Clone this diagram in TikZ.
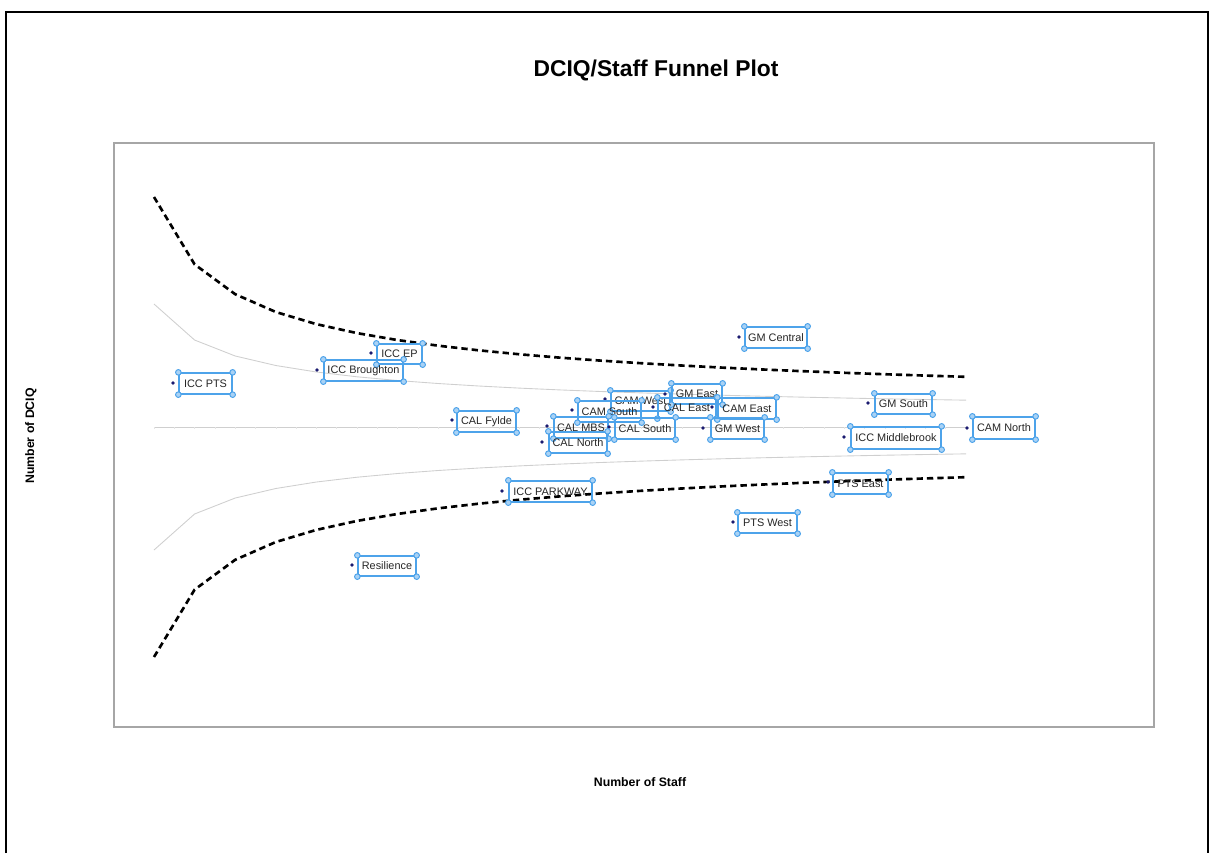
\documentclass[tikz,border=0pt]{standalone}
\usepackage{fontspec}
\setmainfont{Liberation Sans}
\definecolor{boxblue}{HTML}{4DA3EA}
\definecolor{handlefill}{HTML}{A9D2F5}
\definecolor{dotnavy}{HTML}{1B1B70}
\definecolor{framegray}{HTML}{A6A6A6}
\definecolor{linegray}{HTML}{CFCFCF}
\tikzset{
  labbox/.style={draw=boxblue, line width=0.75pt, inner sep=0pt, font=\fontsize{6.2}{7}\selectfont, text=black!85},
  handle/.style={draw=boxblue, fill=handlefill, line width=0.55pt},
  datadot/.style={circle, fill=dotnavy, inner sep=0pt, minimum size=2.2pt},
  limitline/.style={line width=1.5pt, dash pattern=on 3.6pt off 2.3pt},
  innerline/.style={draw=linegray, line width=0.5pt},
  axislabel/.style={font=\fontsize{7}{8}\selectfont\bfseries},
}
\newcommand\datum[8]{%
  \node[datadot] (#1-dot) at (#2,#3) {};
  \node[labbox, minimum width={(#6-#4)*0.02cm}, minimum height={(#7-#5)*0.02cm}] (#1) at ({(#4+#6)/2},{(#5+#7)/2}) {#8};
  \foreach \c in {north west,north east,south west,south east} \draw[handle] (#1.\c) circle (1.6pt);
}
\begin{document}
\begin{tikzpicture}[x=0.02cm,y=-0.02cm]
\useasboundingbox (0,0) rectangle (1211,853);
% outer frame
\draw[black, line width=0.7pt] (6,853) -- (6,12) -- (1208,12) -- (1208,853);
% title
\node[font=\fontsize{13}{15}\selectfont\bfseries] (title) at (656,70) {DCIQ/Staff Funnel Plot};
% plot area
\draw[framegray, line width=1pt] (114,143) rectangle (1154,727);
% centre line with faint ticks
\draw[innerline] (154,427) -- (966,427);
\foreach \k in {0,...,40} \draw[draw=black!10, line width=0.25pt] ({154+20.3*\k},427) -- ++(0,1.5);
% inner limits
\draw[innerline] plot[domain=0:20, samples=21] ({154+40.6*\x},{427-123/sqrt(\x+1)});
\draw[innerline] plot[domain=0:20, samples=21] ({154+40.6*\x},{427+123/sqrt(\x+1)});
% outer limits
\draw[limitline] plot[domain=0:20, samples=21] ({154+40.6*\x},{427-230/sqrt(\x+1)});
\draw[limitline] plot[domain=0:20, samples=21] ({154+40.6*\x},{427+230/sqrt(\x+1)});
% data points
\datum{iccpts}{173}{383}{179}{373}{232}{394}{ICC PTS}
\datum{iccep}{371}{353}{377}{344}{422}{364}{ICC EP}
\datum{iccbr}{317}{370}{324}{360}{403}{381}{ICC Broughton}
\datum{gmcentral}{739}{337}{745}{327}{807}{348}{GM Central}
\datum{calfylde}{452}{420}{457}{411}{516}{432}{CAL Fylde}
\datum{camwest}{605}{399}{611}{391}{670}{411}{CAM West}
\datum{camsouth}{572}{410}{578}{401}{641}{422}{CAM South}
\datum{gmeast}{665}{394}{672}{384}{722}{404}{GM East}
\datum{caleast}{653}{407}{658}{398}{716}{418}{CAL East}
\datum{cameast}{712}{407}{718}{398}{776}{419}{CAM East}
\datum{calmbs}{547}{426}{554}{417}{608}{438}{CAL MBS}
\datum{calsouth}{609}{427}{615}{418}{675}{439}{CAL South}
\datum{calnorth}{542}{442}{549}{432}{607}{453}{CAL North}
\datum{gmwest}{703}{428}{711}{418}{764}{439}{GM West}
\datum{gmsouth}{868}{403}{875}{394}{932}{414}{GM South}
\datum{iccmid}{844}{437}{851}{427}{941}{449}{ICC Middlebrook}
\datum{camnorth}{967}{428}{973}{417}{1035}{439}{CAM North}
\datum{ptseast}{828}{482}{833}{473}{888}{494}{PTS East}
\datum{iccpark}{502}{491}{509}{481}{592}{502}{ICC PARKWAY}
\datum{ptswest}{733}{522}{738}{513}{797}{533}{PTS West}
\datum{resil}{352}{565}{358}{556}{416}{576}{Resilience}
% axis labels
\node[axislabel] (xlabel) at (640,782) {Number of Staff};
\node[axislabel, rotate=90] (ylabel) at (31,436) {Number of DCIQ};
\end{tikzpicture}
\end{document}
